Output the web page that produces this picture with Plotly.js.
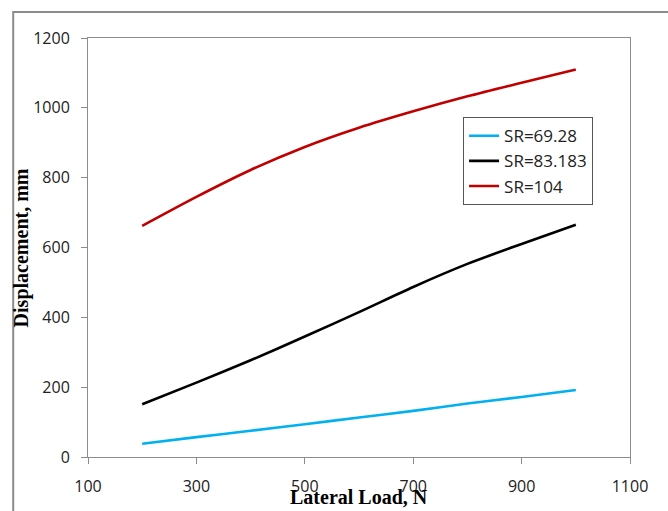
<!DOCTYPE html>
<html>
<head>
<meta charset="utf-8">
<script src="https://cdn.plot.ly/plotly-3.0.1.min.js"></script>
<style>html,body{margin:0;padding:0;background:#fff;}#chart{width:668px;height:511px;}</style>
</head>
<body>
<div id="chart"></div>
<script>
const lateralLoad = [200, 300, 400, 500, 600, 700, 800, 900, 1000];
const sr6928 = [38, 57, 75, 94, 113, 132, 153, 172, 192];
const sr83183 = [151, 213, 277, 345, 415, 487, 553, 610, 665];
const sr104 = [662, 745, 822, 888, 943, 990, 1033, 1072, 1110];
const seriesNames = ["SR=69.28", "SR=83.183", "SR=104"];
const xTicks = [100, 300, 500, 700, 900, 1100];
const yTicks = [0, 200, 400, 600, 800, 1000, 1200];

const colors = ["#00B0F0", "#000000", "#C00000"];
const ys = [sr6928, sr83183, sr104];
const traces = ys.map((y, i) => ({
  x: lateralLoad, y: y, name: seriesNames[i], type: "scatter", mode: "lines",
  line: {color: colors[i], width: 2.6, shape: "spline", smoothing: 0.8}
}));

const tickFont = {family: "Open Sans, Noto Sans, sans-serif", size: 16, color: "#222"};
const layout = {
  width: 668, height: 511,
  margin: {l: 88, r: 38, t: 38, b: 54},
  paper_bgcolor: "#fff", plot_bgcolor: "#fff",
  showlegend: true,
  xaxis: {
    range: [100, 1100], tickvals: xTicks, ticktext: xTicks.map(String),
    showgrid: false, zeroline: false, showline: true, linecolor: "#8c8c8c", linewidth: 1, mirror: true,
    ticks: "outside", ticklen: 6, tickcolor: "#8c8c8c", tickfont: tickFont, ticklabelstandoff: 9
  },
  yaxis: {
    range: [0, 1200], tickvals: yTicks, ticktext: yTicks.map(String),
    showgrid: false, zeroline: false, showline: true, linecolor: "#8c8c8c", linewidth: 1, mirror: true,
    ticks: "outside", ticklen: 6, tickcolor: "#8c8c8c", tickfont: tickFont, ticklabelstandoff: 8
  },
  legend: {
    x: 0.692, y: 0.811, xanchor: "left", yanchor: "top",
    bordercolor: "#555", borderwidth: 1, bgcolor: "#fff",
    font: {family: "Open Sans, Noto Sans, sans-serif", size: 17, color: "#222"},
    tracegroupgap: 0, entrywidth: 110
  },
  annotations: [
    {text: "<b>Lateral Load, N</b>", xref: "paper", yref: "paper", x: 0.5, y: -0.1265,
     xanchor: "center", yanchor: "bottom", showarrow: false,
     font: {family: "Liberation Serif, Times New Roman, serif", size: 20, color: "#000"}},
    {text: "<b>Displacement, mm</b>", xref: "paper", yref: "paper", x: -0.122, y: 0.5,
     xanchor: "center", yanchor: "middle", showarrow: false, textangle: -90,
     font: {family: "Liberation Serif, Times New Roman, serif", size: 20, color: "#000"}}
  ],
  shapes: [
    {type: "rect", xref: "paper", yref: "paper", x0: -0.138, x1: 1.2, y0: -0.3, y1: 1.062,
     line: {color: "#8c8c8c", width: 2}, fillcolor: "rgba(0,0,0,0)", layer: "below"}
  ]
};

Plotly.newPlot("chart", traces, layout, {displayModeBar: false, staticPlot: true});
</script>
</body>
</html>
